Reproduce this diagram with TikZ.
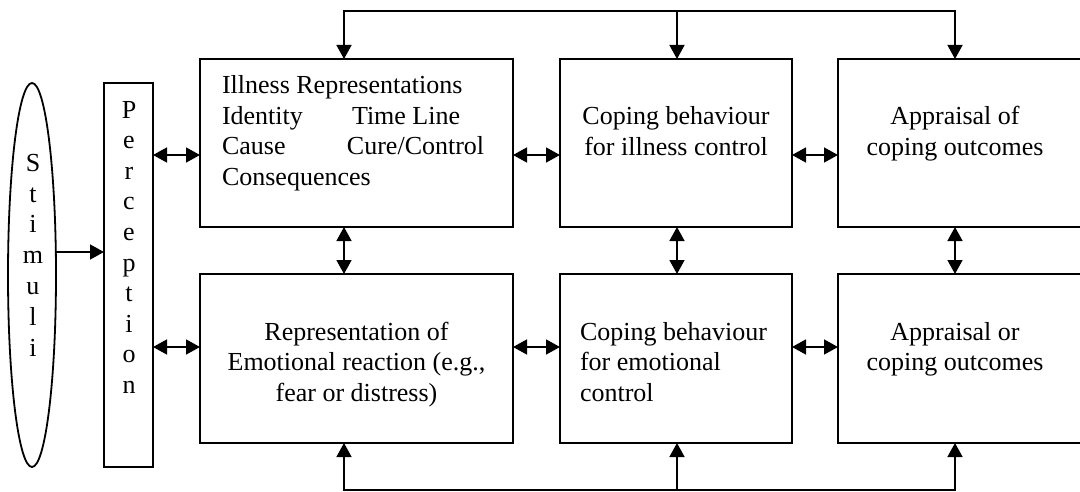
\documentclass[tikz,border=0pt]{standalone}
\usepackage{fontspec}
\setmainfont{Liberation Serif}
\usetikzlibrary{arrows.meta,shapes.geometric}
\begin{document}
\begin{tikzpicture}[x=1pt,y=-1pt,
  blk/.style={draw,rectangle,line width=1.8pt,inner sep=0pt,outer sep=0pt},
  oval/.style={draw,ellipse,line width=1.8pt,inner sep=0pt,outer sep=0pt},
  txt/.style={inner sep=0pt,outer sep=0pt,font=\fontsize{26}{30.5}\selectfont},
  arr/.style={line width=1.5pt,-{Triangle[length=14pt,width=15pt]}},
  biarr/.style={line width=1.5pt,{Triangle[length=14pt,width=15pt]}-{Triangle[length=14pt,width=15pt]}}]
\useasboundingbox (0,0) rectangle (1080,492);
\clip (0,0) rectangle (1080,492);

% input stage (multi-line texts are placed by the baseline of their last line)
\node[oval,minimum width=48pt,minimum height=384pt] (stim) at (32,275) {};
\node[blk,minimum width=49pt,minimum height=384pt] (perc) at (128.5,275) {};
\node[txt,anchor=base,align=center,font=\fontsize{26}{30.8}\selectfont] (stimtxt) at (33,356)
  {S\\t\\i\\m\\u\\l\\i};
\node[txt,anchor=base,align=center,font=\fontsize{26}{30.6}\selectfont] (perctxt) at (129,393.4)
  {P\\e\\r\\c\\e\\p\\t\\i\\o\\n};

% upper row: illness
\node[blk,minimum width=313pt,minimum height=168pt] (b1) at (356.5,143) {};
\node[blk,minimum width=232pt,minimum height=168pt] (b2) at (676,143) {};
\node[blk,minimum width=252pt,minimum height=168pt] (b3) at (964,143) {};
% lower row: emotion
\node[blk,minimum width=313pt,minimum height=169pt] (b4) at (356.5,358.5) {};
\node[blk,minimum width=232pt,minimum height=169pt] (b5) at (676,358.5) {};
\node[blk,minimum width=252pt,minimum height=169pt] (b6) at (964,358.5) {};

\node[txt,anchor=base west,align=left] (t1) at (222,185.5)
  {Illness Representations\\
   \makebox[130pt][l]{Identity}Time Line\\
   \makebox[125pt][l]{Cause}Cure/Control\\
   Consequences};
\node[txt,anchor=base,align=center] (t2) at (676,155.5) {Coping behaviour\\for illness control};
\node[txt,anchor=base,align=center] (t3) at (955,155.5) {Appraisal of\\coping outcomes};
\node[txt,anchor=base,align=center] (t4) at (356.5,401)
  {Representation of\\Emotional reaction (e.g.,\\fear or distress)};
\node[txt,anchor=base west,align=left] (t5) at (580,401) {Coping behaviour\\for emotional\\control};
\node[txt,anchor=base,align=center] (t6) at (955,370.5) {Appraisal or\\coping outcomes};

% helper lines for connector rows and columns
\coordinate (r1) at (0,155);
\coordinate (r2) at (0,347);
\coordinate (c1) at (344,0);
\coordinate (c2) at (677,0);
\coordinate (c3) at (955,0);
\coordinate (top) at (0,11);
\coordinate (bot) at (0,490);

% stimuli to perception
\draw[arr] ([yshift=23pt]stim.east) -- ([yshift=23pt]stim.east -| perc.west);

% horizontal two-way links
\draw[biarr] (perc.east |- r1) -- (b1.west |- r1);
\draw[biarr] (b1.east |- r1) -- (b2.west |- r1);
\draw[biarr] (b2.east |- r1) -- (b3.west |- r1);
\draw[biarr] (perc.east |- r2) -- (b4.west |- r2);
\draw[biarr] (b4.east |- r2) -- (b5.west |- r2);
\draw[biarr] (b5.east |- r2) -- (b6.west |- r2);

% vertical two-way links
\draw[biarr] (b1.south -| c1) -- (b4.north -| c1);
\draw[biarr] (b2.south -| c2) -- (b5.north -| c2);
\draw[biarr] (b3.south -| c3) -- (b6.north -| c3);

% feedback along the top
\draw[arr,line join=miter] (c2 |- top) -- (c1 |- top) -- (b1.north -| c1);
\draw[arr,line join=miter] (c2 |- top) -- (c3 |- top) -- (b3.north -| c3);
\draw[arr] (c2 |- top) -- (b2.north -| c2);

% feedback along the bottom
\draw[arr,line join=miter] (c2 |- bot) -- (c1 |- bot) -- (b4.south -| c1);
\draw[arr,line join=miter] (c2 |- bot) -- (c3 |- bot) -- (b6.south -| c3);
\draw[arr] (c2 |- bot) -- (b5.south -| c2);
\end{tikzpicture}
\end{document}
